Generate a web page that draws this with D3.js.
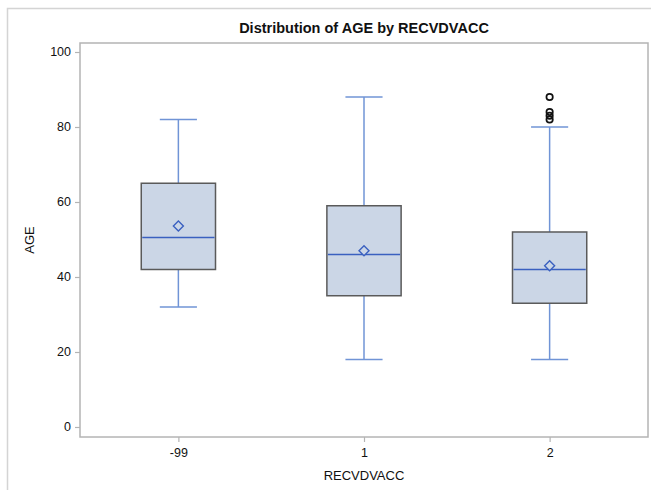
<!DOCTYPE html>
<html>
<head>
<meta charset="utf-8">
<script src="https://cdn.jsdelivr.net/npm/d3@7"></script>
<style>
  body { margin: 0; background: #fff; }
  text { font-family: "Liberation Sans", Arial, sans-serif; fill: #111; }
</style>
</head>
<body>
<div id="chart"></div>
<script>
// values
const categories = ['-99', '1', '2'];
const whiskerLow = [32, 18, 18];
const q1 = [42, 35, 33];
const median = [50.5, 46, 42];
const q3 = [65, 59, 52];
const whiskerHigh = [82, 88, 80];
const means = [53.6, 47, 43];
const outliers = [[], [], [82, 83, 84, 88]];
const yTicks = [0, 20, 40, 60, 80, 100];

const config = {
  width: 651,
  height: 490,
  left: 80,
  right: 648,
  top: 43,
  bottom: 437,
  boxFill: '#cbd6e6',
  boxStroke: '#5a5a5a',
  whiskerColour: '#7094d6',
  medianColour: '#3a60c0',
  frameColour: '#b4b4b4'
};

const svg = d3.select('#chart').append('svg')
  .attr('width', config.width)
  .attr('height', config.height);

// outer border of the graph
svg.append('path')
  .attr('d', `M7.5,${config.height} V8.5 H${config.width}`)
  .style('fill', 'none')
  .style('stroke', '#d4d4d4')
  .style('stroke-width', 1.5);

const x = d3.scalePoint().domain(categories).range([config.left, config.right]).padding(0.53);
const y = d3.scaleLinear().domain([-2.67, 102.4]).range([config.bottom, config.top]);
const boxW = x.step() * 0.4;
const capW = boxW / 2;

// axes
const yAxis = svg.append('g')
  .attr('transform', `translate(${config.left},0)`)
  .call(d3.axisLeft(y).tickValues(yTicks).tickSize(5).tickPadding(4));
const xAxis = svg.append('g')
  .attr('transform', `translate(0,${config.bottom})`)
  .call(d3.axisBottom(x).tickSize(5).tickPadding(6));
[xAxis, yAxis].forEach(a => {
  a.select('.domain').remove();
  a.selectAll('.tick line').style('stroke', config.frameColour).style('stroke-width', 1.2);
  a.selectAll('.tick text').style('font-size', '12.5px').style('fill', '#111')
    .style('font-family', '"Liberation Sans", Arial, sans-serif');
});

// plot frame
svg.append('rect')
  .attr('x', config.left)
  .attr('y', config.top)
  .attr('width', config.right - config.left)
  .attr('height', config.bottom - config.top)
  .style('fill', 'none')
  .style('stroke', config.frameColour)
  .style('stroke-width', 1.5);

const groups = svg.selectAll('.box')
  .data(categories)
  .join('g')
  .attr('class', 'box');

groups.each(function (c, i) {
  const g = d3.select(this);
  const cx = x(c);
  // whiskers and caps
  [[whiskerLow[i], q1[i]], [q3[i], whiskerHigh[i]]].forEach(([a, b]) => {
    g.append('line')
      .attr('x1', cx).attr('x2', cx)
      .attr('y1', y(a)).attr('y2', y(b))
      .style('stroke', config.whiskerColour).style('stroke-width', 1.5);
  });
  [whiskerLow[i], whiskerHigh[i]].forEach(v => {
    g.append('line')
      .attr('x1', cx - capW / 2).attr('x2', cx + capW / 2)
      .attr('y1', y(v)).attr('y2', y(v))
      .style('stroke', config.whiskerColour).style('stroke-width', 1.5);
  });
  g.append('rect')
    .attr('x', cx - boxW / 2)
    .attr('y', y(q3[i]))
    .attr('width', boxW)
    .attr('height', y(q1[i]) - y(q3[i]))
    .style('fill', config.boxFill)
    .style('stroke', config.boxStroke)
    .style('stroke-width', 1.5);
  g.append('line')
    .attr('x1', cx - boxW / 2 + 1).attr('x2', cx + boxW / 2 - 1)
    .attr('y1', y(median[i])).attr('y2', y(median[i]))
    .style('stroke', config.medianColour).style('stroke-width', 1.5);
  const my = y(means[i]);
  g.append('path')
    .attr('d', `M${cx},${my - 5}L${cx + 5},${my}L${cx},${my + 5}L${cx - 5},${my}Z`)
    .style('fill', config.boxFill)
    .style('stroke', config.medianColour)
    .style('stroke-width', 1.4);
  outliers[i].forEach(v => {
    g.append('circle')
      .attr('cx', cx).attr('cy', y(v)).attr('r', 3.2)
      .style('fill', 'none')
      .style('stroke', '#111')
      .style('stroke-width', 1.7);
  });
});

// titles
const midX = (config.left + config.right) / 2;
svg.append('text')
  .attr('x', midX).attr('y', 33)
  .attr('text-anchor', 'middle')
  .style('font-size', '14.5px').style('font-weight', 'bold')
  .text('Distribution of AGE by RECVDVACC');
svg.append('text')
  .attr('x', midX).attr('y', 480)
  .attr('text-anchor', 'middle')
  .style('font-size', '13px')
  .text('RECVDVACC');
svg.append('text')
  .attr('transform', `translate(34,${(config.top + config.bottom) / 2}) rotate(-90)`)
  .attr('text-anchor', 'middle')
  .style('font-size', '13px')
  .text('AGE');
</script>
</body>
</html>
